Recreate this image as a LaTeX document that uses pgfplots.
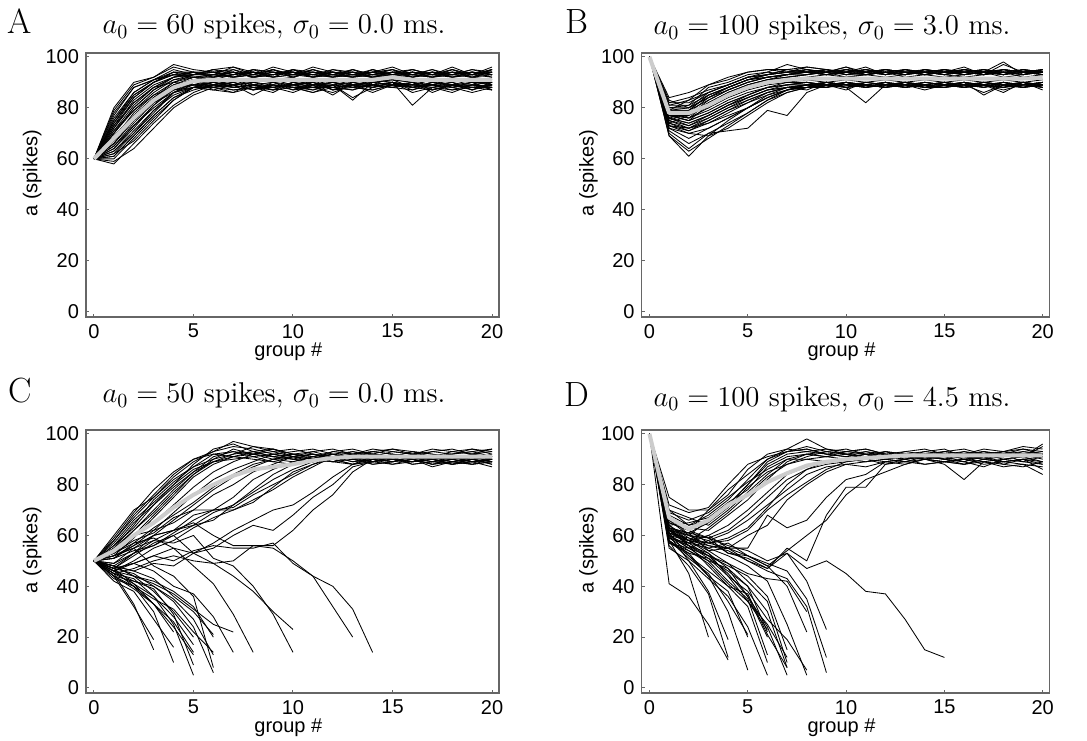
\documentclass[border=0pt]{standalone}
\usepackage{pgfplots}
\usepackage{pgfplotstable}
\pgfplotsset{compat=1.18}
\usepackage{fontspec}
\newfontfamily\hv{Liberation Sans}

% Panel A: one row per group #, one column per trajectory
\pgfplotstableread[header=false]{
0 60 60 60 60 60 60 60 60 60 60 60 60 60 60 60 60 60 60 60 60 60 60 60 60
1 66 70 74 78 72 68 64 80 62 69 75 71 65 60 67 73 58 63 70 66 76 61 68 64
2 76 80 84 88 82 78 72 90 70 77 85 79 74 68 76 82 66 71 79 75 86 69 77 73
3 84 87 90 91 88 85 81 92 78 84 90 86 82 76 83 88 74 79 85 82 91 77 84 80
4 90 92 94 93 92 90 88 96 86 89 93 91 86 83 87 90 81 85 88 87 94 84 88 86
5 93 93 94 92 93 92 91 94 90 92 93 93 88 88 89 89 86 88 89 88 91 87 89 88
6 93 94 92 93 95 92 93 94 92 91 94 93 89 88 90 88 89 87 89 90 88 89 88 90
7 94 92 93 96 93 94 92 93 95 93 92 94 88 90 89 86 88 89 91 88 89 87 90 88
8 92 93 95 93 94 92 93 94 92 95 93 92 89 88 87 90 89 85 88 89 90 88 87 89
9 93 95 92 94 93 93 95 92 93 94 92 95 88 89 90 88 87 89 88 90 89 86 89 88
10 94 93 93 92 95 94 92 93 94 93 95 93 89 87 88 89 90 88 89 87 88 90 88 89
11 92 94 93 95 92 93 94 96 92 93 94 92 88 90 89 87 88 89 90 88 86 89 88 90
12 93 92 94 93 94 92 93 94 95 92 93 94 90 88 85 89 88 90 87 89 88 89 90 87
13 95 93 92 94 93 95 92 93 94 93 92 93 88 89 90 83 89 88 89 90 87 88 89 88
14 93 94 93 92 94 93 95 92 93 94 93 95 89 88 89 90 88 87 89 88 90 89 86 89
15 94 93 95 93 92 94 93 94 93 95 92 93 90 89 88 89 90 89 88 90 89 88 89 90
16 93 95 93 94 93 92 94 93 95 92 94 93 88 90 89 88 81 89 90 88 89 90 88 87
17 92 93 94 93 95 93 92 94 93 94 93 92 89 87 88 90 88 89 86 89 88 87 89 90
18 94 93 92 95 93 94 93 92 94 93 95 93 88 89 90 88 89 87 89 90 86 89 88 89
19 93 94 93 92 94 93 95 93 92 94 93 94 89 88 87 89 90 88 89 87 89 88 90 88
20 95 93 94 93 92 94 93 95 94 93 92 93 88 89 90 88 87 89 88 89 90 88 87 89
}\tabA
\pgfplotstableread[header=false]{
0 60 60 60 60 60 60 60 60 60 60 60 60 60 60 60 60
1 72 63 77 67 59 74 70 65 79 62 71 68 73 66 61 75
2 83 70 88 76 64 85 80 73 89 67 81 77 84 75 69 86
3 89 79 91 84 72 90 87 81 92 75 88 84 90 83 77 91
4 92 86 95 89 80 93 91 87 97 83 92 89 94 88 84 93
5 94 89 93 91 85 94 92 90 95 88 94 91 93 90 88 92
6 92 90 95 89 88 93 91 88 94 90 92 89 95 91 87 93
7 94 88 96 91 89 92 90 87 95 91 93 90 94 89 86 92
8 93 89 94 90 87 95 92 88 93 89 94 91 92 90 88 94
9 95 87 93 91 88 94 90 89 96 88 92 90 94 91 87 93
10 92 90 95 89 86 93 91 88 94 90 95 89 93 92 88 94
11 94 88 93 91 89 95 89 87 93 91 92 90 95 89 86 92
12 93 86 94 90 88 92 91 89 95 87 94 91 93 90 89 93
13 95 89 92 88 87 94 90 88 93 90 93 89 92 91 84 94
14 92 90 95 91 89 93 92 87 94 88 92 90 94 89 88 92
15 94 91 93 90 88 95 91 89 96 90 94 91 93 92 90 93
16 93 88 94 89 87 92 90 88 93 89 95 90 94 91 86 92
17 95 90 93 91 89 94 91 87 92 91 93 89 92 90 88 94
18 92 89 96 90 88 93 90 89 94 88 92 91 95 89 87 93
19 94 87 93 91 86 95 92 88 93 90 94 90 93 91 89 92
20 93 90 95 89 88 94 91 87 96 89 93 90 94 90 88 95
}\tabAA

% Panel B
\pgfplotstableread[header=false]{
0 100 100 100 100 100 100 100 100 100 100 100 100 100 100 100 100 100 100 100 100 100 100 100 100
1 80 78 82 76 79 74 81 77 75 83 79 78 76 73 77 70 75 72 78 74 69 76 73 77
2 80 76 82 78 79 77 81 75 78 80 83 79 74 72 75 64 73 70 76 72 61 74 71 75
3 84 82 86 80 85 83 88 81 84 86 89 85 77 74 78 70 76 72 79 75 69 77 74 78
4 87 86 89 85 88 87 90 86 88 89 91 88 81 77 82 71 80 76 83 79 75 81 78 82
5 90 89 92 89 91 90 93 89 91 92 94 91 84 80 85 72 83 80 86 82 80 84 82 85
6 92 91 93 91 93 92 94 91 92 93 95 92 87 84 88 79 86 84 88 86 85 87 85 88
7 93 92 94 93 94 93 97 92 93 94 95 93 88 87 89 77 88 87 90 88 87 89 88 89
8 94 93 95 94 94 93 95 93 95 94 96 94 89 88 90 86 89 88 90 87 89 90 88 89
9 93 94 94 95 93 94 93 95 94 93 95 94 90 89 88 89 90 88 89 90 88 89 90 89
10 94 93 95 93 94 95 94 93 96 94 93 94 89 90 89 88 89 90 88 89 90 88 89 90
11 93 95 94 93 95 94 93 94 93 95 94 93 88 89 90 82 89 88 90 89 88 89 88 89
12 94 93 93 95 94 93 94 95 94 93 95 94 90 88 89 89 88 90 89 88 89 90 89 88
13 93 94 95 94 93 94 93 94 95 94 93 95 89 90 88 90 89 88 90 89 88 89 90 89
14 95 94 93 94 95 93 94 93 94 95 94 93 88 89 90 88 87 89 88 90 89 88 89 90
15 94 93 94 95 93 94 95 94 93 94 95 94 89 88 89 90 89 90 88 89 90 89 88 89
16 93 95 94 93 94 95 93 94 95 93 94 95 90 89 88 89 90 88 89 88 89 90 89 88
17 94 93 95 94 93 94 94 93 94 95 93 94 88 90 89 86 89 90 88 89 90 88 89 90
18 95 94 93 94 95 93 98 94 93 94 95 93 89 88 90 89 88 89 90 86 89 90 88 89
19 94 95 94 93 94 95 93 94 95 93 94 95 90 89 88 90 89 88 89 90 88 89 90 88
20 95 94 95 94 93 94 95 94 93 95 94 94 89 90 89 88 90 89 88 87 89 90 89 90
}\tabB
\pgfplotstableread[header=false]{
0 100 100 100 100 100 100 100 100 100 100 100 100 100 100 100 100
1 82 74 79 71 77 84 76 80 73 78 69 81 75 79 72 77
2 84 71 80 66 77 86 73 81 70 79 63 83 72 78 68 76
3 87 75 84 70 81 89 77 85 69 83 68 86 76 82 72 80
4 89 79 88 74 85 92 81 88 72 87 73 89 80 86 76 84
5 92 83 91 78 88 94 85 91 77 90 78 92 84 89 80 87
6 93 86 93 83 90 95 88 93 82 92 83 94 87 91 84 89
7 95 88 94 87 91 94 89 95 86 93 86 93 88 92 87 90
8 94 89 96 89 92 95 90 94 88 94 88 94 89 93 89 91
9 93 90 95 88 93 94 89 95 89 93 90 95 88 94 90 90
10 95 88 94 90 92 96 90 94 87 95 89 93 90 92 88 91
11 94 89 95 89 93 94 88 96 90 93 88 94 89 93 89 90
12 93 90 94 88 94 95 89 93 89 94 90 95 88 92 90 91
13 95 88 93 90 92 94 90 95 88 93 89 94 90 93 88 90
14 94 89 95 89 93 93 88 94 90 95 88 93 89 94 89 91
15 93 90 94 88 92 95 89 93 89 94 90 95 88 93 90 90
16 95 88 96 90 93 94 90 94 88 93 89 94 90 92 88 91
17 94 89 93 89 94 95 85 95 90 94 88 93 89 93 89 90
18 93 90 95 88 92 94 89 93 89 95 90 97 88 94 87 91
19 95 88 94 90 93 93 90 94 88 93 89 94 90 92 89 90
20 94 89 95 89 94 95 88 93 90 94 88 93 89 93 90 91
}\tabBB

% Panel C: one row per trajectory, group # 0..20 (nan = extinct)
\pgfplotstableread[header=false]{
50 56 63 72 80 88 94 96 93 94 92 91 93 92 93 92 91 93 92 94 93
50 58 68 76 84 90 93 95 94 92 93 94 92 93 91 93 92 93 94 92 93
50 54 62 70 78 85 91 93 92 94 91 93 94 92 93 94 92 91 93 94 92
50 60 70 75 82 87 90 92 93 91 92 90 93 94 92 91 93 92 90 92 94
50 53 60 68 76 84 90 94 92 93 91 92 90 91 92 90 89 90 91 89 90
50 57 66 73 80 86 89 91 93 91 90 92 91 89 90 91 88 89 90 91 89
50 55 64 74 81 87 92 93 91 92 90 89 91 90 89 91 90 88 89 90 88
50 52 59 67 75 83 88 91 92 90 91 90 89 88 90 89 91 90 88 89 90
50 56 65 72 79 85 89 90 91 89 88 90 89 91 88 89 90 87 89 88 89
50 59 69 78 85 90 92 91 90 89 91 89 90 88 89 90 89 91 90 89 87
50 51 56 62 69 76 82 86 89 92 91 90 92 91 93 92 90 91 92 93 91
50 48 53 60 66 72 78 83 87 90 92 91 89 90 92 91 93 92 91 90 92
50 53 58 61 67 70 76 80 85 88 91 92 90 91 89 90 92 90 91 89 90
50 52 55 60 62 68 70 75 82 86 89 91 92 90 91 89 90 89 88 90 91
50 47 52 57 60 64 69 72 78 84 88 90 89 91 90 92 91 89 90 88 89
50 55 60 62 65 70 70 71 76 80 84 88 90 92 91 90 89 91 90 92 90
50 46 50 55 58 63 67 70 74 78 83 87 91 90 89 91 90 88 89 91 90
50 49 55 58 62 64 66 72 77 82 86 89 90 91 89 88 90 91 89 90 88
50 47 49 52 55 53 57 62 66 70 72 77 83 88 91 90 89 90 91 89 90
50 48 46 49 48 53 55 60 64 62 68 75 80 87 89 91 90 88 90 91 89
50 45 47 50 52 50 49 50 56 56 62 70 76 85 90 89 91 90 88 90 89
50 58 67 75 83 89 93 97 95 93 94 92 91 93 92 94 93 91 92 93 94
50 55 62 69 77 84 89 92 95 94 92 93 91 92 94 93 92 94 93 92 91
50 54 60 65 72 79 85 89 92 91 90 89 91 90 88 89 91 90 89 88 90
50 51 57 63 68 73 79 84 88 90 89 91 90 88 89 90 88 89 91 90 89
50 47 53 56 61 66 70 70 73 79 85 88 91 89 90 88 89 90 88 89 90
50 44 32 19 nan nan nan nan nan nan nan nan nan nan nan nan nan nan nan nan nan
50 45 33 15 nan nan nan nan nan nan nan nan nan nan nan nan nan nan nan nan nan
50 42 38 27 16 nan nan nan nan nan nan nan nan nan nan nan nan nan nan nan nan
50 46 40 30 10 nan nan nan nan nan nan nan nan nan nan nan nan nan nan nan nan
50 47 41 33 22 nan nan nan nan nan nan nan nan nan nan nan nan nan nan nan nan
50 45 43 36 25 5 nan nan nan nan nan nan nan nan nan nan nan nan nan nan nan
50 44 40 33 24 13 nan nan nan nan nan nan nan nan nan nan nan nan nan nan nan
50 48 44 38 30 20 nan nan nan nan nan nan nan nan nan nan nan nan nan nan nan
50 46 42 39 29 9 nan nan nan nan nan nan nan nan nan nan nan nan nan nan nan
50 45 41 36 28 17 nan nan nan nan nan nan nan nan nan nan nan nan nan nan nan
50 44 39 33 26 14 nan nan nan nan nan nan nan nan nan nan nan nan nan nan nan
50 47 45 40 34 24 6 nan nan nan nan nan nan nan nan nan nan nan nan nan nan
50 44 42 40 35 27 13 nan nan nan nan nan nan nan nan nan nan nan nan nan nan
50 48 46 43 36 30 21 nan nan nan nan nan nan nan nan nan nan nan nan nan nan
50 43 40 35 31 22 14 nan nan nan nan nan nan nan nan nan nan nan nan nan nan
50 48 44 42 38 32 20 nan nan nan nan nan nan nan nan nan nan nan nan nan nan
50 52 55 48 44 36 8 nan nan nan nan nan nan nan nan nan nan nan nan nan nan
50 47 49 46 40 37 28 14 nan nan nan nan nan nan nan nan nan nan nan nan nan
50 46 44 41 37 31 25 22 nan nan nan nan nan nan nan nan nan nan nan nan nan
50 53 57 59 55 48 41 29 14 nan nan nan nan nan nan nan nan nan nan nan nan
50 51 54 56 60 53 49 44 38 30 23 nan nan nan nan nan nan nan nan nan nan
50 49 53 58 57 60 51 48 40 29 14 nan nan nan nan nan nan nan nan nan nan
50 52 56 60 62 65 60 56 56 55 50 44 32 20 nan nan nan nan nan nan nan
50 46 49 52 50 54 56 55 55 57 49 44 40 31 14 nan nan nan nan nan nan
}\rawC
\pgfplotstabletranspose{\tabC}{\rawC}

% Panel D
\pgfplotstableread[header=false]{
100 70 64 68 74 82 90 93 95 93 94 92 93 91 92 93 92 94 93 95 94
100 66 62 70 76 86 92 94 98 94 93 94 92 93 92 91 93 92 93 92 93
100 72 69 71 80 88 91 93 94 92 93 92 91 93 94 92 93 91 93 94 92
100 68 60 66 72 80 88 92 93 94 92 91 93 92 91 93 92 93 92 91 96
100 64 65 67 73 78 87 91 92 91 93 94 92 91 93 92 90 91 92 93 92
100 75 70 70 78 84 90 94 93 92 91 92 90 92 91 90 92 93 91 92 91
100 62 58 63 69 76 83 88 91 93 92 93 91 92 93 94 91 92 93 91 95
100 67 63 62 68 74 82 89 92 91 90 91 92 90 91 92 91 90 91 92 90
100 63 61 65 71 79 85 88 90 91 92 90 91 92 90 91 89 92 90 91 92
100 69 66 69 75 81 86 90 90 89 90 92 91 90 92 90 91 90 92 89 91
100 61 57 60 64 70 77 84 87 89 90 89 90 91 90 89 90 91 89 90 91
100 65 62 59 62 68 75 82 86 88 89 90 89 90 91 90 89 87 90 91 89
100 60 55 58 61 66 72 78 84 87 88 89 90 89 88 89 90 88 89 90 88
100 64 59 57 58 62 70 76 81 86 89 90 88 89 90 88 82 89 88 87 89
100 66 60 56 55 60 64 74 80 85 88 87 89 88 90 89 88 90 89 88 87
100 63 58 60 55 55 68 63 66 75 82 84 89 90 91 90 89 91 88 90 89
100 59 57 55 57 52 48 54 60 66 76 82 85 88 90 89 88 90 89 90 86
100 62 61 54 55 50 47 55 50 68 79 79 88 90 88 89 90 89 87 88 84
100 68 64 66 72 80 89 93 94 92 91 93 92 91 92 93 94 92 91 93 92
100 70 67 64 70 77 84 90 92 93 92 91 93 92 90 92 91 93 92 94 93
100 61 58 57 59 63 71 80 86 89 90 91 90 89 91 90 88 89 90 89 88
100 58 45 20 nan nan nan nan nan nan nan nan nan nan nan nan nan nan nan nan nan
100 41 36 25 11 nan nan nan nan nan nan nan nan nan nan nan nan nan nan nan nan
100 56 48 37 12 nan nan nan nan nan nan nan nan nan nan nan nan nan nan nan nan
100 60 50 38 19 nan nan nan nan nan nan nan nan nan nan nan nan nan nan nan nan
100 57 53 44 30 7 nan nan nan nan nan nan nan nan nan nan nan nan nan nan nan
100 61 52 44 38 20 nan nan nan nan nan nan nan nan nan nan nan nan nan nan nan
100 58 51 45 34 21 nan nan nan nan nan nan nan nan nan nan nan nan nan nan nan
100 55 50 43 36 24 5 nan nan nan nan nan nan nan nan nan nan nan nan nan nan
100 63 56 48 40 32 10 nan nan nan nan nan nan nan nan nan nan nan nan nan nan
100 59 54 50 42 35 13 nan nan nan nan nan nan nan nan nan nan nan nan nan nan
100 62 57 52 45 36 20 nan nan nan nan nan nan nan nan nan nan nan nan nan nan
100 62 58 53 47 40 22 nan nan nan nan nan nan nan nan nan nan nan nan nan nan
100 60 55 50 47 36 24 5 nan nan nan nan nan nan nan nan nan nan nan nan nan
100 58 53 51 46 40 30 8 nan nan nan nan nan nan nan nan nan nan nan nan nan
100 64 58 54 49 42 34 10 nan nan nan nan nan nan nan nan nan nan nan nan nan
100 57 55 52 48 44 36 15 nan nan nan nan nan nan nan nan nan nan nan nan nan
100 57 54 49 41 34 25 12 nan nan nan nan nan nan nan nan nan nan nan nan nan
100 58 52 46 40 37 21 8 nan nan nan nan nan nan nan nan nan nan nan nan nan
100 61 59 55 52 48 42 25 5 nan nan nan nan nan nan nan nan nan nan nan nan
100 60 56 51 44 38 27 19 7 nan nan nan nan nan nan nan nan nan nan nan nan
100 63 60 58 53 52 48 40 22 nan nan nan nan nan nan nan nan nan nan nan nan
100 60 58 56 54 50 46 43 32 6 nan nan nan nan nan nan nan nan nan nan nan
100 65 62 57 55 52 49 46 35 12 nan nan nan nan nan nan nan nan nan nan nan
100 62 60 59 53 51 47 53 42 23 nan nan nan nan nan nan nan nan nan nan nan
100 59 56 52 49 45 43 42 30 nan nan nan nan nan nan nan nan nan nan nan nan
100 63 61 59 56 54 50 53 47 50 45 38 37 27 15 12 nan nan nan nan nan
100 62 56 53 44 34 23 nan nan nan nan nan nan nan nan nan nan nan nan nan nan
}\rawD
\pgfplotstabletranspose{\tabD}{\rawD}

\pgfplotsset{
  panel/.style={
    scale only axis, height=132pt, width=205pt,
    xmin=-0.4, xmax=20.35, ymin=-2, ymax=101.5,
    xtick={0,5,10,15,20}, ytick={0,20,40,60,80,100},
    tick align=inside, tick pos=left, major tick length=1.5pt,
    axis line style={color=black!60, line width=0.75pt},
    every tick/.style={color=black!60, line width=0.5pt},
    /pgf/number format/assume math mode=true,
    tick label style={font=\hv\fontsize{10}{11}\selectfont},
    label style={font=\hv\fontsize{10}{11}\selectfont},
    xlabel={group \#}, ylabel={a (spikes)},
    xlabel style={at={(axis description cs:0.49,-0.15)}, anchor=base},
    ylabel style={at={(axis description cs:-0.13,0.545)}, anchor=center},
    clip=true,
  },
  ln/.style={black, line width=0.42pt, line join=round, mark=none},
  meanline/.style={color=black!20, line width=2pt, line join=round, mark=none},
}

\begin{document}
\begin{tikzpicture}
\useasboundingbox (0,0) rectangle (543.5pt,370pt);

% ---------------- A
\begin{axis}[panel, at={(43pt,211.5pt)}, anchor=south west, width=206.5pt]
\pgfplotsinvokeforeach{1,...,24}{\addplot[ln] table[x index=0, y index=#1]{\tabA};}
\pgfplotsinvokeforeach{1,...,16}{\addplot[ln] table[x index=0, y index=#1]{\tabAA};}
\addplot[meanline] coordinates {(0,60)(1,68)(2,76)(3,83)(4,88)(5,90.5)(6,91)(7,91)(8,91)(9,91)(10,91)(11,91)(12,91)(13,91)(14,91)(15,92)(16,91)(17,91)(18,91)(19,91)(20,91)};
\end{axis}

% ---------------- B
\begin{axis}[panel, at={(320.8pt,211.5pt)}, anchor=south west, width=204pt]
\pgfplotsinvokeforeach{1,...,24}{\addplot[ln] table[x index=0, y index=#1]{\tabB};}
\pgfplotsinvokeforeach{1,...,16}{\addplot[ln] table[x index=0, y index=#1]{\tabBB};}
\addplot[meanline] coordinates {(0,100)(1,78)(2,78)(3,81)(4,85)(5,88)(6,90)(7,91)(8,91.5)(9,91.5)(10,91.5)(11,91.5)(12,91.5)(13,91.5)(14,91.5)(15,91.5)(16,91.5)(17,91.5)(18,91.5)(19,91.5)(20,91.8)};
\end{axis}

% ---------------- C
\begin{axis}[panel, at={(43pt,23.5pt)}, anchor=south west, width=206.5pt, height=131.5pt]
\pgfplotsinvokeforeach{1,...,50}{\addplot[ln] table[x index=0, y index=#1]{\tabC};}
\addplot[meanline] coordinates {(0,50)(1,54)(2,60)(3,65)(4,71)(5,76)(6,80)(7,83.5)(8,86)(9,87)(10,88)(11,89.5)(12,90.5)(13,91)(14,91)(15,91)(16,91)(17,91)(18,91)(19,91)(20,91)};
\end{axis}

% ---------------- D
\begin{axis}[panel, at={(320.8pt,23.5pt)}, anchor=south west, width=204pt, height=131.5pt]
\pgfplotsinvokeforeach{1,...,48}{\addplot[ln] table[x index=0, y index=#1]{\tabD};}
\addplot[meanline] coordinates {(0,100)(1,67)(2,62.5)(3,66)(4,72)(5,76)(6,81)(7,84.5)(8,87.5)(9,89)(10,90)(11,90.5)(12,91)(13,91.5)(14,91.5)(15,91.5)(16,91.5)(17,91.5)(18,91.5)(19,91.5)(20,91.5)};
\end{axis}

% panel letters and titles
\node[anchor=base, font=\fontsize{17.5}{18}\selectfont] at (10pt,353pt) {A};
\node[anchor=base, font=\fontsize{14.3}{15}\selectfont] at (137pt,353pt) {$a_0 = 60$ spikes, $\sigma_0 = 0.0$ ms.};
\node[anchor=base, font=\fontsize{17.5}{18}\selectfont] at (288.3pt,353pt) {B};
\node[anchor=base, font=\fontsize{14.3}{15}\selectfont] at (416pt,352.5pt) {$a_0 = 100$ spikes, $\sigma_0 = 3.0$ ms.};
\node[anchor=base, font=\fontsize{17.5}{18}\selectfont] at (10pt,168.5pt) {C};
\node[anchor=base, font=\fontsize{14.3}{15}\selectfont] at (137pt,168.5pt) {$a_0 = 50$ spikes, $\sigma_0 = 0.0$ ms.};
\node[anchor=base, font=\fontsize{17.5}{18}\selectfont] at (288.3pt,167pt) {D};
\node[anchor=base, font=\fontsize{14.3}{15}\selectfont] at (416pt,167pt) {$a_0 = 100$ spikes, $\sigma_0 = 4.5$ ms.};
\end{tikzpicture}
\end{document}
